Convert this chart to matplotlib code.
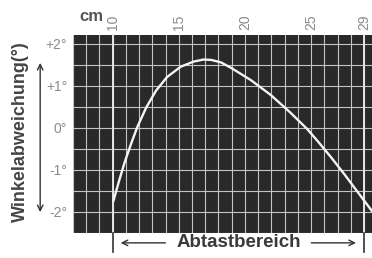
import matplotlib.pyplot as plt
import numpy as np

# data
pos_cm = [10.05, 10.5, 10.9, 11.42, 11.87, 12.54, 13.28, 14.1, 15.15, 16.12, 16.87,
          17.46, 18.2, 18.96, 20.45, 21.94, 23.43, 24.7, 25.5, 26.5, 27.5, 28.5, 29.6]
dev_deg = [-1.75, -1.25, -0.83, -0.36, 0.02, 0.48, 0.88, 1.2, 1.45, 1.57, 1.62,
           1.61, 1.55, 1.42, 1.13, 0.78, 0.36, -0.03, -0.32, -0.7, -1.1, -1.52, -1.98]
x_ticks = [10, 15, 20, 25, 29]
y_ticks = [2, 1, 0, -1, -2]
y_labels = ['+2°', '+1°', '0°', '-1°', '-2°']
scan_start, scan_end = 10, 29

plt.rcParams['font.family'] = ['Liberation Sans', 'DejaVu Sans']

fig = plt.figure(figsize=(3.72, 2.58), dpi=100)
ax = fig.add_axes([0.196, 0.097, 0.804, 0.767])
ax.set_facecolor('#292929')
ax.set_xlim(7.0, 29.6)
ax.set_ylim(-2.5, 2.2)

# background mesh
for gx in np.arange(7, 30, 1):
    ax.axvline(gx, color='#c4c4c4', lw=0.8, zorder=1)
for gy in np.arange(-2.5, 2.3, 0.5):
    ax.axhline(gy, color='#c4c4c4', lw=0.8, zorder=1)

ax.plot(pos_cm, dev_deg, color='#f4f4f4', lw=1.7, zorder=3,
        solid_joinstyle='round', solid_capstyle='round')

# scan range markers
tr = ax.get_xaxis_transform()
for xm in (scan_start, scan_end):
    ax.plot([xm, xm], [0.0, 1.0], color='#e6e6e6', lw=1.4, transform=tr,
            clip_on=False, zorder=2)
    ax.plot([xm, xm], [-0.096, 0.0], color='#333333', lw=1.2, transform=tr,
            clip_on=False, zorder=4)

ax.annotate('', xy=(scan_start + 0.4, -0.05), xytext=(14.2, -0.05), xycoords=tr,
            arrowprops=dict(arrowstyle='->', color='#333333', lw=1.0))
ax.annotate('', xy=(scan_end - 0.4, -0.05), xytext=(24.8, -0.05), xycoords=tr,
            arrowprops=dict(arrowstyle='->', color='#333333', lw=1.0))
ax.text(19.5, -0.05, 'Abtastbereich', transform=tr, ha='center', va='center',
        fontsize=13.5, fontweight='bold', color='#3a3a3a')

ax.xaxis.tick_top()
ax.set_xticks(x_ticks)
ax.set_xticklabels([str(t) for t in x_ticks], rotation=90, fontsize=10, color='#8a8a8a')
ax.set_yticks(y_ticks)
ax.set_yticklabels(y_labels, fontsize=10, color='#8a8a8a')
ax.tick_params(length=0, pad=4)
for s in ax.spines.values():
    s.set_visible(False)

fig.text(0.213, 0.935, 'cm', ha='left', va='center', fontsize=12,
         fontweight='bold', color='#555555')
fig.text(0.054, 0.49, 'Winkelabweichung(°)', rotation=90, ha='center', va='center',
         fontsize=13, fontweight='bold', color='#444444')
ax.annotate('', xy=(0.108, 0.767), xytext=(0.108, 0.167), xycoords='figure fraction',
            arrowprops=dict(arrowstyle='<->', color='#333333', lw=1.0))

fig.savefig('out.png', dpi=100)
